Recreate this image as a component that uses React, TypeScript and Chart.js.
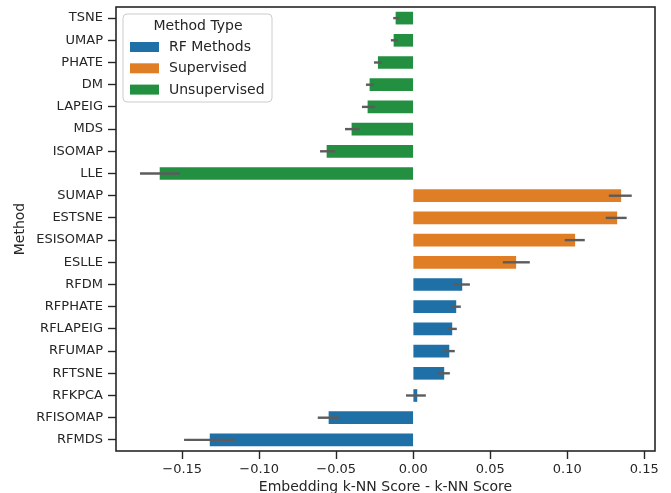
import React, { useEffect, useRef } from "react";
import { Chart, registerables } from "chart.js";

Chart.register(...registerables);

const methods = [
  "TSNE", "UMAP", "PHATE", "DM", "LAPEIG", "MDS", "ISOMAP", "LLE",
  "SUMAP", "ESTSNE", "ESISOMAP", "ESLLE",
  "RFDM", "RFPHATE", "RFLAPEIG", "RFUMAP", "RFTSNE", "RFKPCA", "RFISOMAP", "RFMDS",
];
const methodTypes = [
  "Unsupervised", "Unsupervised", "Unsupervised", "Unsupervised", "Unsupervised", "Unsupervised", "Unsupervised", "Unsupervised",
  "Supervised", "Supervised", "Supervised", "Supervised",
  "RF Methods", "RF Methods", "RF Methods", "RF Methods", "RF Methods", "RF Methods", "RF Methods", "RF Methods",
];
const scoreDiff = [
  -0.0112, -0.0125, -0.0227, -0.0281, -0.0294, -0.0398, -0.056, -0.1644,
  0.1348, 0.1322, 0.1049, 0.0666,
  0.0316, 0.0277, 0.0251, 0.0232, 0.0199, 0.0024, -0.0547, -0.1319,
];
const ciLow = [
  -0.013, -0.0145, -0.0255, -0.0307, -0.0333, -0.0443, -0.0605, -0.1774,
  0.127, 0.125, 0.0984, 0.0582,
  0.0264, 0.0244, 0.0218, 0.0199, 0.016, -0.0047, -0.062, -0.1488,
];
const ciHigh = [
  -0.0091, -0.0101, -0.0205, -0.0255, -0.0247, -0.0348, -0.0506, -0.1514,
  0.1419, 0.1386, 0.1114, 0.0757,
  0.0368, 0.0309, 0.0283, 0.027, 0.0238, 0.0082, -0.0476, -0.1151,
];
const legendTypes = ["RF Methods", "Supervised", "Unsupervised"];
const typeColors = ["#1f70a6", "#e07e26", "#238f40"];
const xTicks = [-0.15, -0.1, -0.05, 0, 0.05, 0.1, 0.15];
const xMin = -0.193;
const xMax = 0.157;

const FONT = "'DejaVu Sans', sans-serif";
const TEXT = "#262626";

function colorFor(t: string) {
  return typeColors[legendTypes.indexOf(t)];
}

const overlayPlugin = {
  id: "overlay",
  afterDatasetsDraw(chart: any) {
    const ctx = chart.ctx;
    const xs = chart.scales.x;
    const ys = chart.scales.y;
    ctx.save();
    ctx.strokeStyle = "#5c5c5c";
    ctx.lineWidth = 2.4;
    ctx.lineCap = "butt";
    for (let i = 0; i < methods.length; i++) {
      const y = ys.getPixelForValue(i);
      ctx.beginPath();
      ctx.moveTo(xs.getPixelForValue(ciLow[i]), y);
      ctx.lineTo(xs.getPixelForValue(ciHigh[i]), y);
      ctx.stroke();
    }
    ctx.restore();
  },
  afterDraw(chart: any) {
    const ctx = chart.ctx;
    const a = chart.chartArea;
    ctx.save();
    // spines
    ctx.strokeStyle = TEXT;
    ctx.lineWidth = 1.6;
    ctx.strokeRect(a.left, a.top, a.right - a.left, a.bottom - a.top);

    // axis titles
    ctx.fillStyle = TEXT;
    ctx.font = `14px ${FONT}`;
    ctx.textAlign = "center";
    ctx.textBaseline = "alphabetic";
    ctx.fillText("Embedding k-NN Score - k-NN Score", (a.left + a.right) / 2, a.bottom + 40);
    ctx.save();
    ctx.translate(20, (a.top + a.bottom) / 2);
    ctx.rotate(-Math.PI / 2);
    ctx.textBaseline = "middle";
    ctx.fillText("Method", 0, 0);
    ctx.restore();

    // legend
    const lx = a.left + 7;
    const ly = a.top + 7;
    const lw = 149;
    const lh = 88;
    const r = 4;
    ctx.beginPath();
    ctx.moveTo(lx + r, ly);
    ctx.lineTo(lx + lw - r, ly);
    ctx.quadraticCurveTo(lx + lw, ly, lx + lw, ly + r);
    ctx.lineTo(lx + lw, ly + lh - r);
    ctx.quadraticCurveTo(lx + lw, ly + lh, lx + lw - r, ly + lh);
    ctx.lineTo(lx + r, ly + lh);
    ctx.quadraticCurveTo(lx, ly + lh, lx, ly + lh - r);
    ctx.lineTo(lx, ly + r);
    ctx.quadraticCurveTo(lx, ly, lx + r, ly);
    ctx.closePath();
    ctx.fillStyle = "rgba(255,255,255,0.8)";
    ctx.fill();
    ctx.strokeStyle = "#cccccc";
    ctx.lineWidth = 1;
    ctx.stroke();

    ctx.fillStyle = TEXT;
    ctx.font = `14px ${FONT}`;
    ctx.textAlign = "center";
    ctx.textBaseline = "middle";
    ctx.fillText("Method Type", lx + 75, ly + 12);
    ctx.font = `14px ${FONT}`;
    ctx.textAlign = "left";
    for (let i = 0; i < legendTypes.length; i++) {
      const cy = ly + 33 + i * 21.3;
      ctx.fillStyle = typeColors[i];
      ctx.fillRect(lx + 7, cy - 5, 29, 10);
      ctx.fillStyle = TEXT;
      ctx.fillText(legendTypes[i], lx + 46, cy + 0.5);
    }
    ctx.restore();
  },
};

export default function App() {
  const ref = useRef<HTMLCanvasElement | null>(null);
  useEffect(() => {
    if (!ref.current) return;
    const chart = new Chart(ref.current, {
      type: "bar",
      data: {
        labels: methods,
        datasets: [
          {
            label: "Embedding k-NN Score - k-NN Score",
            data: scoreDiff,
            backgroundColor: methodTypes.map(colorFor),
            borderWidth: 0,
            barThickness: 12,
          },
        ],
      },
      options: {
        indexAxis: "y",
        animation: false,
        responsive: false,
        devicePixelRatio: 1,
        layout: { padding: { left: 0, top: 7, right: 16, bottom: 0 } },
        plugins: {
          legend: { display: false },
          tooltip: { enabled: false },
          title: { display: false },
        },
        scales: {
          x: {
            type: "linear",
            min: xMin,
            max: xMax,
            afterBuildTicks: (scale: any) => {
              scale.ticks = xTicks.map((v) => ({ value: v }));
            },
            afterFit: (scale: any) => {
              scale.height = 42;
              scale.paddingLeft = 0;
              scale.paddingRight = 0;
            },
            ticks: {
              font: { family: FONT, size: 13 },
              color: TEXT,
              padding: 3,
              maxRotation: 0,
              autoSkip: false,
              callback: (v: any) => {
                const n = Number(v);
                const s = Math.abs(n).toFixed(2);
                return n < -1e-9 ? "\u2212" + s : s;
              },
            },
            grid: {
              display: true,
              drawOnChartArea: false,
              drawTicks: true,
              tickLength: 8,
              tickColor: TEXT,
              tickWidth: 1.4,
            },
            border: { display: false },
          },
          y: {
            type: "category",
            offset: true,
            afterFit: (scale: any) => {
              scale.width = 116;
              scale.paddingTop = 0;
              scale.paddingBottom = 0;
            },
            ticks: {
              font: { family: FONT, size: 13 },
              color: TEXT,
              padding: 5,
              autoSkip: false,
            },
            grid: {
              display: true,
              drawOnChartArea: false,
              drawTicks: true,
              tickLength: 8,
              tickColor: TEXT,
              tickWidth: 1.4,
              offset: false,
            },
            border: { display: false },
          },
        },
      },
      plugins: [overlayPlugin],
    } as any);
    return () => chart.destroy();
  }, []);
  return (
    <div style={{ position: "absolute", left: 0, top: 0, width: 671, height: 493, background: "#fff" }}>
      <canvas ref={ref} width={671} height={493} style={{ display: "block", width: 671, height: 493 }} />
    </div>
  );
}
